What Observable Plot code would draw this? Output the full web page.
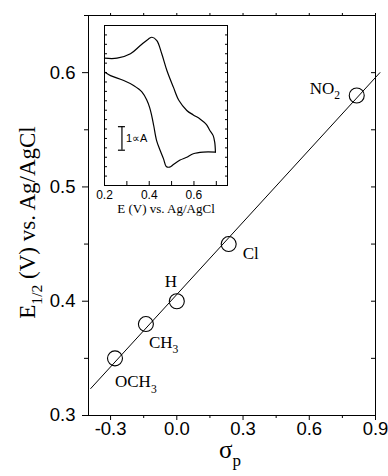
<!DOCTYPE html>
<html><head><meta charset="utf-8">
<script src="https://cdn.jsdelivr.net/npm/d3@7"></script>
<script src="https://cdn.jsdelivr.net/npm/@observablehq/plot@0.6"></script>
<style>
body{margin:0;background:#fff;}
#wrap{position:relative;width:388px;height:476px;overflow:hidden;}
#main{position:absolute;left:0;top:0;}
#inset{position:absolute;left:94px;top:20px;}
svg{overflow:visible;}
</style></head><body><div id="wrap"><div id="main"></div><div id="inset"></div></div>
<script>
// ---- main Hammett plot data ----
const substituents = ["OCH_{3}", "CH_{3}", "H", "Cl", "NO_{2}"];
const sigmaP = [-0.28, -0.14, 0.0, 0.235, 0.815];
const eHalf = [0.350, 0.380, 0.400, 0.450, 0.580];
const fitSigma = [-0.39, 0.92];
const fitE = [0.3236, 0.600];
const xTicks = [-0.3, 0.0, 0.3, 0.6, 0.9];
const xMinor = [-0.15, 0.15, 0.45, 0.75];
const yTicks = [0.3, 0.4, 0.5, 0.6];
const yMinor = [0.35, 0.45, 0.55, 0.65];

// ---- inset cyclic voltammogram (E in V, current in µA, arbitrary offset) ----
const cvFwdE = [0.200,0.256,0.316,0.360,0.397,0.412,0.434,0.456,0.479,0.508,0.533,0.568,0.597,0.627,0.656,0.671,0.686,0.693,0.696];
const cvFwdI = [5.41,5.41,5.60,5.95,6.23,6.30,6.16,5.60,4.89,4.18,3.61,3.19,3.00,2.83,2.59,2.34,2.12,1.83,1.42];
const cvRevE = [0.696,0.641,0.597,0.568,0.538,0.508,0.491,0.476,0.464,0.449,0.433,0.420,0.411,0.402,0.390,0.368,0.330,0.286,0.227,0.200];
const cvRevI = [1.42,1.42,1.35,1.20,1.08,0.89,0.78,0.81,1.13,1.49,1.91,2.55,2.97,3.31,3.61,3.97,4.25,4.46,4.67,4.82];
const insetXTicks = [0.2, 0.3, 0.4, 0.5, 0.6, 0.7];
const insetXLabels = [0.2, 0.4, 0.6];
const insetYTicks = [0,0.4,0.8,1.2,1.6,2.0,2.4,2.8,3.2,3.6,4.0,4.4,4.8,5.2,5.6,6.0,6.4,6.8];
const scaleBarE = 0.278;
const scaleBarI = [1.5, 2.5];
const scaleBarText = "1∝A";

const serif = "'Liberation Serif', 'Times New Roman', serif";
const sans = "'Liberation Sans', Arial, sans-serif";

const points = substituents.map((s, i) => ({label: s, sigma: sigmaP[i], e: eHalf[i]}));
const fit = fitSigma.map((s, i) => ({sigma: s, e: fitE[i]}));
const cv = [
  ...cvFwdE.map((e, i) => ({E: e, I: cvFwdI[i], branch: "fwd"})),
  ...cvRevE.map((e, i) => ({E: e, I: cvRevI[i], branch: "rev"}))
];

// label placement (pixel offsets from circle centre)
const place = {
  "OCH_{3}": {dx: 0, dy: 29},
  "CH_{3}": {dx: 3, dy: 24},
  "H": {dx: -12, dy: -14},
  "Cl": {dx: 14, dy: 15},
  "NO_{2}": {dx: -47, dy: -2}
};

const fmt = d => d.toFixed(1);

const main = Plot.plot({
  width: 388, height: 476,
  marginLeft: 88, marginRight: 13, marginTop: 15, marginBottom: 61,
  style: {fontFamily: sans, color: "black", background: "white"},
  x: {domain: [-0.4, 0.9]},
  y: {domain: [0.3, 0.65]},
  marks: [
    Plot.frame({stroke: "black"}),
    Plot.axisX({ticks: xTicks, tickSize: 5, tickPadding: 1, fontSize: 18.5, tickFormat: fmt, label: null}),
    Plot.axisX({ticks: xMinor, tickSize: 3, text: null, label: null}),
    Plot.axisX({ticks: [...xTicks, ...xMinor], anchor: "top", tickSize: 3, text: null, label: null}),
    Plot.axisY({ticks: yTicks, tickSize: 6, tickPadding: 7, fontSize: 18.5, tickFormat: fmt, label: null}),
    Plot.axisY({ticks: yMinor, tickSize: 4, text: null, label: null}),
    Plot.axisY({ticks: [...yTicks, ...yMinor], anchor: "right", tickSize: -5, text: null, label: null}),
    Plot.line(fit, {x: "sigma", y: "e", stroke: "black", strokeWidth: 1}),
    Plot.dot(points, {x: "sigma", y: "e", r: 7.5, stroke: "black", strokeWidth: 1.1, fill: "none"}),
    ...points.map(p => Plot.text([p], {x: "sigma", y: "e", text: "label", textAnchor: "start", lineAnchor: "bottom",
      dx: place[p.label].dx, dy: place[p.label].dy, fontFamily: serif, fontSize: 17, fill: "black"})),
    Plot.text(["E_{1/2} (V) vs. Ag/AgCl"], {frameAnchor: "left", textAnchor: "middle", dx: -61, dy: 7, rotate: -90, fontFamily: serif, fontSize: 23, fill: "black"}),
    Plot.text(["σ_{p}"], {frameAnchor: "bottom", textAnchor: "middle", dx: -2, dy: 42, fontFamily: serif, fontSize: 25, fill: "black"})
  ]
});
document.getElementById("main").append(main);

const inset = Plot.plot({
  width: 143, height: 200,
  marginLeft: 10, marginRight: 10, marginTop: 5, marginBottom: 35,
  style: {fontFamily: sans, color: "black", background: "white", overflow: "visible"},
  x: {domain: [0.2, 0.75]},
  y: {domain: [0, 6.8]},
  marks: [
    Plot.frame({stroke: "black"}),
    Plot.axisX({ticks: insetXLabels, tickSize: 0, tickPadding: 5, fontSize: 12, tickFormat: fmt, label: null}),
    Plot.axisX({ticks: insetXTicks, tickSize: -4, text: null, label: null}),
    Plot.axisY({ticks: insetYTicks, anchor: "left", tickSize: -3, text: null, label: null}),
    Plot.axisY({ticks: insetYTicks, anchor: "right", tickSize: -3, text: null, label: null}),
    Plot.line(cv, {x: "E", y: "I", z: "branch", curve: "catmull-rom", stroke: "black", strokeWidth: 1.2}),
    Plot.ruleX([scaleBarE], {y1: scaleBarI[0], y2: scaleBarI[1], stroke: "black", strokeWidth: 1.2}),
    Plot.ruleY(scaleBarI, {x1: scaleBarE, x2: scaleBarE, insetLeft: -3.5, insetRight: -3.5, stroke: "black", strokeWidth: 1.2}),
    Plot.text([scaleBarText], {x: scaleBarE, y: (scaleBarI[0] + scaleBarI[1]) / 2, dx: 4, textAnchor: "start", fontSize: 11, fill: "black"}),
    Plot.text(["E (V) vs. Ag/AgCl"], {frameAnchor: "bottom", textAnchor: "middle", dy: 27.5, lineAnchor: "bottom", fontFamily: serif, fontSize: 13, fill: "black"})
  ]
});
document.getElementById("inset").append(inset);

function subscriptify(svg, scale = 0.68, shiftEm = 0.32) {
  svg.querySelectorAll("text").forEach(t => {
    const s = t.textContent;
    if (!s.includes("_{")) return;
    const fs = parseFloat(getComputedStyle(t).fontSize) || 16;
    t.textContent = "";
    const parts = s.split(/(_\{[^}]*\})/);
    let shifted = false;
    parts.forEach(p => {
      if (!p) return;
      const ts = document.createElementNS("http://www.w3.org/2000/svg", "tspan");
      if (p.startsWith("_{")) {
        ts.textContent = p.slice(2, -1);
        ts.setAttribute("font-size", (fs * scale).toFixed(1));
        ts.setAttribute("dy", (fs * shiftEm).toFixed(1));
        shifted = true;
      } else {
        ts.textContent = p;
        if (shifted) { ts.setAttribute("dy", (-fs * shiftEm).toFixed(1)); shifted = false; }
      }
      t.appendChild(ts);
    });
  });
}
subscriptify(main);
</script></body></html>
